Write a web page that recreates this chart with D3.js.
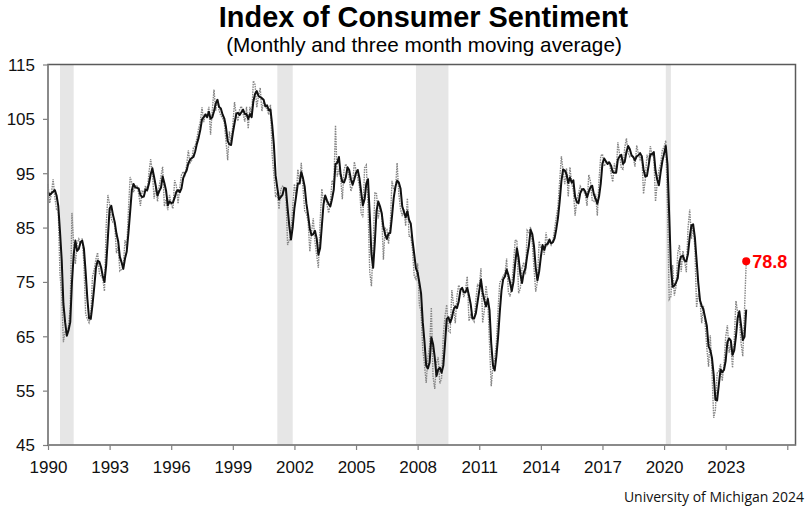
<!DOCTYPE html>
<html>
<head>
<meta charset="utf-8">
<script src="https://cdn.jsdelivr.net/npm/d3@7"></script>
<style>
  html, body { margin: 0; padding: 0; background: #fff; }
  svg { display: block; }
</style>
</head>
<body>
<svg id="chart" width="810" height="508"></svg>
<script>
// ---------------- DATA ----------------
const startYear = 1990; // first month = Jan 1990, monthly steps

// Monthly index (Jan 1990 .. Jan 2024)
const monthly = [
  93.0, 89.5, 91.3, 93.9, 90.6, 88.3, 88.2, 76.4, 72.8, 63.9, 66.0, 65.5,
  66.8, 70.4, 87.7, 81.8, 78.3, 82.1, 82.9, 82.0, 83.0, 78.3, 69.1, 68.2,
  67.5, 68.8, 76.0, 77.2, 79.2, 80.4, 76.6, 76.1, 75.6, 73.3, 85.3, 91.0,
  89.3, 86.6, 85.9, 85.6, 80.3, 81.5, 77.0, 77.3, 77.9, 82.7, 81.2, 88.2,
  94.3, 93.2, 91.5, 92.6, 92.8, 91.2, 89.0, 91.7, 91.5, 92.7, 91.6, 95.1,
  97.6, 95.1, 90.3, 92.5, 89.8, 92.7, 94.4, 96.2, 88.9, 90.2, 88.2, 91.0,
  89.3, 88.5, 93.7, 92.7, 89.4, 92.4, 94.7, 95.3, 94.7, 96.5, 99.2, 96.9,
  97.4, 99.7, 100.0, 101.4, 103.2, 104.5, 107.1, 104.4, 106.0, 105.6, 107.2, 102.1,
  106.6, 110.4, 106.5, 108.7, 106.5, 105.6, 105.2, 104.4, 100.9, 97.4, 102.7, 100.5,
  103.9, 108.1, 105.7, 104.6, 106.8, 107.3, 106.0, 104.5, 107.2, 103.2, 107.2, 105.4,
  112.0, 111.3, 107.1, 109.2, 110.7, 106.4, 108.3, 107.3, 106.8, 105.8, 107.6, 98.4,
  94.7, 90.6, 91.5, 88.4, 92.0, 92.6, 92.4, 91.5, 81.8, 82.7, 83.9, 88.8,
  93.0, 90.7, 95.7, 93.0, 96.9, 92.4, 88.1, 87.6, 86.1, 80.6, 84.2, 86.7,
  82.4, 79.9, 77.6, 86.0, 92.1, 89.7, 90.9, 89.3, 87.7, 89.6, 93.7, 92.6,
  103.8, 94.4, 95.8, 94.2, 90.2, 95.6, 96.7, 95.9, 94.2, 91.7, 92.8, 97.1,
  95.5, 94.1, 92.6, 87.7, 86.9, 96.0, 96.5, 89.1, 76.9, 74.2, 81.6, 91.5,
  91.2, 86.7, 88.9, 87.4, 79.1, 84.9, 84.7, 82.0, 85.4, 93.6, 92.1, 91.7,
  96.9, 91.3, 88.4, 87.1, 88.3, 85.3, 90.4, 83.4, 83.4, 80.9, 76.1, 75.5,
  78.4, 70.8, 69.5, 62.6, 59.8, 56.4, 61.2, 63.0, 70.3, 57.6, 55.3, 60.1,
  61.2, 56.3, 57.3, 65.1, 68.7, 70.8, 66.0, 65.7, 73.5, 70.6, 67.4, 72.5,
  74.4, 73.6, 73.6, 72.2, 73.6, 76.0, 67.8, 68.9, 68.2, 67.7, 71.6, 74.5,
  74.2, 77.5, 67.5, 69.8, 74.3, 71.5, 63.7, 55.8, 59.5, 60.8, 63.7, 69.9,
  75.0, 75.3, 76.2, 76.4, 79.3, 73.2, 72.3, 74.3, 78.3, 82.6, 82.7, 72.9,
  73.8, 77.6, 78.6, 76.4, 84.5, 84.1, 85.1, 82.1, 77.5, 73.2, 75.1, 82.5,
  81.2, 81.6, 80.0, 84.1, 81.9, 82.5, 81.8, 82.5, 84.6, 86.9, 88.8, 93.6,
  98.1, 95.4, 93.0, 95.9, 90.7, 96.1, 93.1, 91.9, 87.2, 90.0, 91.3, 92.6,
  92.0, 91.7, 91.0, 89.0, 94.7, 93.5, 90.0, 89.8, 91.2, 87.2, 93.8, 98.2,
  98.5, 96.3, 96.9, 97.0, 97.1, 95.0, 93.4, 96.8, 95.1, 100.7, 98.5, 95.9,
  95.7, 99.7, 101.4, 98.8, 98.0, 98.2, 97.9, 96.2, 100.1, 98.6, 97.5, 98.3,
  91.2, 93.8, 98.4, 97.2, 100.0, 98.2, 98.4, 89.8, 93.2, 95.5, 96.8, 99.3,
  99.8, 101.0, 89.1, 71.8, 72.3, 78.1, 72.5, 74.1, 80.4, 81.8, 76.9, 80.7,
  79.0, 76.8, 84.9, 88.3, 82.9, 85.5, 81.2, 70.3, 72.8, 71.7, 67.4, 70.6,
  67.2, 62.8, 59.4, 65.2, 58.4, 50.0, 51.5, 58.2, 58.6, 59.9, 56.8, 59.7,
  64.9, 67.0, 62.0, 63.5, 59.2, 64.4, 71.5, 69.4, 67.9, 63.8, 61.3, 69.7,
  78.8
];

// Three month moving average (Jan 1990 .. Jan 2024)
const movingAvg = [
  91.5, 91.0, 91.3, 91.6, 91.9, 90.9, 89.0, 84.3, 79.1, 71.0, 67.6, 65.1,
  66.1, 67.6, 75.0, 80.0, 82.6, 80.7, 81.1, 82.3, 82.6, 81.1, 76.8, 71.9,
  68.3, 68.2, 70.8, 74.0, 77.5, 78.9, 78.7, 77.7, 76.1, 75.0, 78.1, 83.2,
  88.5, 89.0, 87.3, 86.0, 83.9, 82.5, 79.6, 78.6, 77.4, 79.3, 80.6, 84.0,
  87.9, 91.9, 93.0, 92.4, 92.3, 92.2, 91.0, 90.6, 90.7, 92.0, 91.9, 93.1,
  94.8, 95.9, 94.3, 92.6, 90.9, 91.7, 92.3, 94.4, 93.2, 91.8, 89.1, 89.8,
  89.5, 89.6, 90.5, 91.6, 91.9, 91.5, 92.2, 94.1, 94.9, 95.5, 96.8, 97.5,
  97.8, 98.0, 99.0, 100.4, 101.5, 103.0, 104.9, 105.3, 105.8, 105.3, 106.3, 105.0,
  105.3, 106.4, 107.8, 108.5, 107.2, 106.9, 105.8, 105.1, 103.5, 100.9, 100.3, 100.2,
  102.4, 104.2, 105.9, 106.1, 105.7, 106.2, 106.7, 105.9, 105.9, 105.0, 105.9, 105.3,
  108.2, 109.6, 110.1, 109.2, 109.0, 108.8, 108.5, 107.3, 107.5, 106.6, 106.7, 103.9,
  100.2, 94.6, 92.3, 90.2, 90.6, 91.0, 92.3, 92.2, 88.6, 85.3, 82.8, 85.1,
  88.6, 90.8, 93.1, 93.1, 95.2, 94.1, 92.5, 89.4, 87.3, 84.8, 83.6, 83.8,
  84.4, 83.0, 80.0, 81.2, 85.2, 89.3, 90.9, 90.0, 89.3, 88.9, 90.3, 92.0,
  96.7, 96.9, 98.0, 94.8, 93.4, 93.3, 94.2, 96.1, 95.6, 93.9, 92.9, 93.9,
  95.1, 95.6, 94.1, 91.5, 89.1, 90.2, 93.1, 93.9, 87.5, 80.1, 77.6, 82.4,
  88.1, 89.8, 88.9, 87.7, 85.1, 83.8, 82.9, 83.9, 84.0, 87.0, 90.4, 92.5,
  93.6, 93.3, 92.2, 88.9, 87.9, 86.9, 88.0, 86.4, 85.7, 82.6, 80.1, 77.5,
  76.7, 74.9, 72.9, 67.6, 64.0, 59.6, 59.1, 60.2, 64.8, 63.6, 61.1, 57.7,
  58.9, 59.2, 58.3, 59.6, 63.7, 68.2, 68.5, 67.5, 68.4, 69.9, 70.5, 70.2,
  71.4, 73.5, 73.9, 73.1, 73.1, 73.9, 72.5, 70.9, 68.3, 68.3, 69.2, 71.3,
  73.4, 75.4, 73.1, 71.6, 70.5, 71.9, 69.8, 63.7, 59.7, 58.7, 61.3, 64.8,
  69.5, 73.4, 75.5, 76.0, 77.3, 76.3, 74.9, 73.3, 75.0, 78.4, 81.2, 79.4,
  76.5, 74.8, 76.7, 77.5, 79.8, 81.7, 84.6, 83.8, 81.6, 77.6, 75.3, 76.9,
  79.6, 81.8, 80.9, 81.9, 82.0, 82.8, 82.1, 82.3, 83.0, 84.7, 86.8, 89.8,
  93.5, 95.7, 95.5, 94.8, 93.2, 94.2, 93.3, 93.7, 90.7, 89.7, 89.5, 91.3,
  92.0, 92.1, 91.6, 90.6, 91.6, 92.4, 92.7, 91.1, 90.3, 89.4, 90.7, 93.1,
  96.8, 97.7, 97.2, 96.7, 97.0, 96.4, 95.2, 95.1, 95.1, 97.5, 98.1, 98.4,
  96.7, 97.1, 98.9, 100.0, 99.4, 98.3, 98.0, 97.4, 98.1, 98.3, 98.7, 98.1,
  95.7, 94.4, 94.5, 96.5, 98.5, 98.5, 98.9, 95.5, 93.8, 92.8, 95.2, 97.2,
  98.6, 100.0, 96.6, 87.3, 77.7, 74.1, 74.3, 74.9, 75.7, 78.8, 79.7, 79.8,
  78.9, 78.8, 80.2, 83.3, 85.4, 85.6, 83.2, 79.0, 74.8, 71.6, 70.6, 69.9,
  68.4, 66.9, 63.1, 62.5, 61.0, 57.9, 53.3, 53.2, 56.1, 58.9, 58.4, 58.8,
  60.5, 63.9, 64.6, 64.2, 61.6, 62.4, 65.0, 68.4, 69.6, 67.0, 64.3, 64.9,
  69.9
];

// Recession periods (start, end) in decimal years
const recessionStarts = [1990.583, 2001.167, 2007.917, 2020.083];
const recessionEnds   = [1991.250, 2001.917, 2009.500, 2020.333];

// Axis ticks
const xTickYears  = [1990, 1993, 1996, 1999, 2002, 2005, 2008, 2011, 2014, 2017, 2020, 2023, 2026];
const xTickLabels = ["1990", "1993", "1996", "1999", "2002", "2005", "2008", "2011", "2014", "2017", "2020", "2023", ""];
const yTicks = [45, 55, 65, 75, 85, 95, 105, 115];

const latestLabel = "78.8";
const titleText = "Index of Consumer Sentiment";
const subtitleText = "(Monthly and three month moving average)";
const sourceText = "University of Michigan 2024";

// ---------------- DRAW ----------------
const svg = d3.select("#chart");
const plot = { left: 48, right: 795.5, top: 64.5, bottom: 445 };

const x = d3.scaleLinear().domain([1990, 2026.4]).range([plot.left, plot.right]);
const y = d3.scaleLinear().domain([45, 115]).range([plot.bottom, plot.top]);
const monthYear = i => startYear + i / 12;

// Title
svg.append("text")
  .attr("x", 423.5).attr("y", 27)
  .attr("text-anchor", "middle")
  .attr("font-family", "'Liberation Sans', Arial, sans-serif")
  .attr("font-weight", "bold")
  .attr("font-size", 28.9)
  .attr("fill", "#000")
  .text(titleText);

svg.append("text")
  .attr("x", 424).attr("y", 52)
  .attr("text-anchor", "middle")
  .attr("font-family", "'Liberation Sans', Arial, sans-serif")
  .attr("font-size", 20.7)
  .attr("fill", "#000")
  .text(subtitleText);

// Recession shading
svg.append("g").selectAll("rect")
  .data(recessionStarts.map((s, i) => [s, recessionEnds[i]]))
  .join("rect")
  .attr("x", d => x(d[0]))
  .attr("y", plot.top)
  .attr("width", d => x(d[1]) - x(d[0]))
  .attr("height", plot.bottom - plot.top)
  .attr("fill", "#e6e6e6");

// Monthly dotted line
const lineGen = d3.line()
  .x((d, i) => x(monthYear(i)))
  .y(d => y(d));

svg.append("path")
  .datum(monthly)
  .attr("d", lineGen)
  .attr("fill", "none")
  .attr("stroke", "#858585")
  .attr("stroke-width", 1.4)
  .attr("stroke-dasharray", "1.5,1");

// Moving average solid line
svg.append("path")
  .datum(movingAvg)
  .attr("d", lineGen)
  .attr("fill", "none")
  .attr("stroke", "#111")
  .attr("stroke-width", 2)
  .attr("stroke-linejoin", "round");

// Latest point
const lastIdx = monthly.length - 1;
svg.append("circle")
  .attr("cx", x(monthYear(lastIdx)))
  .attr("cy", y(monthly[lastIdx]))
  .attr("r", 4)
  .attr("fill", "#ff0000");

svg.append("text")
  .attr("x", x(monthYear(lastIdx)) + 6)
  .attr("y", y(monthly[lastIdx]) + 6.5)
  .attr("font-family", "'Liberation Sans', Arial, sans-serif")
  .attr("font-weight", "bold")
  .attr("font-size", 18)
  .attr("fill", "#ff0000")
  .text(latestLabel);

// Axes
const xAxis = d3.axisBottom(x)
  .tickValues(xTickYears)
  .tickSize(5)
  .tickSizeOuter(0)
  .tickFormat((d, i) => xTickLabels[i]);

const gx = svg.append("g")
  .attr("transform", `translate(0,${plot.bottom})`)
  .call(xAxis);
gx.select(".domain").remove();
gx.selectAll(".tick line").attr("stroke", "#808080").attr("stroke-width", 1.2);
gx.selectAll(".tick text")
  .attr("font-family", "'Liberation Sans', Arial, sans-serif")
  .attr("font-size", 17)
  .attr("fill", "#111")
  .attr("dy", "0")
  .attr("y", 28);

const yAxis = d3.axisLeft(y)
  .tickValues(yTicks)
  .tickSize(5)
  .tickSizeOuter(0)
  .tickFormat(d3.format("d"));

const gy = svg.append("g")
  .attr("transform", `translate(${plot.left},0)`)
  .call(yAxis);
gy.select(".domain").remove();
gy.selectAll(".tick line").attr("stroke", "#808080").attr("stroke-width", 1.2);
gy.selectAll(".tick text")
  .attr("font-family", "'Liberation Sans', Arial, sans-serif")
  .attr("font-size", 17)
  .attr("fill", "#111")
  .attr("x", -13)
  .attr("dy", "0.35em");

// Plot border
svg.append("rect")
  .attr("x", plot.left).attr("y", plot.top)
  .attr("width", plot.right - plot.left)
  .attr("height", plot.bottom - plot.top)
  .attr("fill", "none")
  .attr("stroke", "#5a5a5a")
  .attr("stroke-width", 1.5);

// Left & bottom axis lines (lighter)
svg.append("line")
  .attr("x1", plot.left).attr("x2", plot.left)
  .attr("y1", plot.top).attr("y2", plot.bottom)
  .attr("stroke", "#8c8c8c").attr("stroke-width", 1.5);
svg.append("line")
  .attr("x1", plot.left).attr("x2", plot.right)
  .attr("y1", plot.bottom).attr("y2", plot.bottom)
  .attr("stroke", "#8c8c8c").attr("stroke-width", 1.5);

// Source
svg.append("text")
  .attr("x", 804).attr("y", 502)
  .attr("text-anchor", "end")
  .attr("font-family", "'Open Sans', 'Noto Sans', sans-serif")
  .attr("font-size", 14)
  .attr("fill", "#111")
  .text(sourceText);
</script>
</body>
</html>
